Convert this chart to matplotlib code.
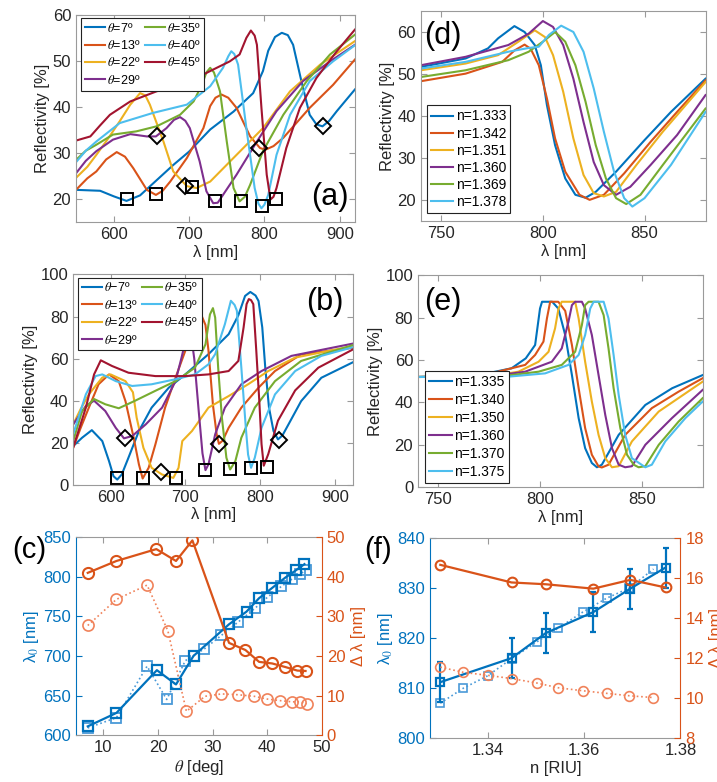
import matplotlib.pyplot as plt

plt.rcParams['font.family'] = ['Liberation Sans', 'DejaVu Sans']
plt.rcParams['mathtext.fontset'] = 'stix'

# MATLAB default colour order
cols = ['#0072BD', '#D95319', '#EDB120', '#7E2F8E', '#77AC30', '#4DBEEE', '#A2142F']
blue = '#0072BD'
orange = '#D95319'
lblue = '#4A9AD8'
lorange = '#F0825A'

# ---- (a) reflectivity spectra, (wavelength nm, R %) ----
a_t7 = [(550,22.0),(582,21.8),(600,20.6),(617,19.6),(635,20.8),(657,24.1),(679,27.4),(700,30.3),(728,35.1),(759,39.0),(785,43.0),(798,47.8),(805,52.2),(814,55.2),(823,56.1),(831,55.6),(838,53.5),(849,45.6),(860,38.3),(869,36.2),(877,35.8),(886,37.0),(896,39.1),(920,43.8)]
a_t13 = [(550,22.0),(565,24.5),(577,26.0),(590,28.6),(604,30.2),(615,29.2),(626,26.7),(644,22.0),(656,20.9),(665,21.8),(675,23.8),(697,28.9),(719,35.4),(728,40.2),(735,42.0),(743,42.7),(752,42.0),(763,39.8),(781,33.6),(794,31.1),(801,30.7),(812,31.5),(825,33.3),(860,39.8),(891,44.8),(920,50.3)]
a_t22 = [(550,24.6),(565,27.0),(577,29.6),(592,33.0),(608,36.9),(622,40.5),(635,43.0),(642,42.5),(648,40.5),(657,36.5),(666,32.5),(679,26.0),(697,22.8),(710,22.4),(728,23.8),(763,29.6),(798,35.4),(834,43.4),(874,49.2),(920,54.3)]
a_t29 = [(550,25.6),(563,28.3),(577,30.4),(599,32.9),(622,34.1),(644,33.6),(656,33.6),(670,35.4),(680,37.2),(688,37.8),(695,37.0),(701,35.4),(714,28.2),(723,21.7),(732,19.1),(738,19.2),(745,20.9),(763,25.3),(790,32.5),(816,39.1),(851,45.6),(887,49.9),(920,53.5)]
a_t35 = [(550,28.5),(563,30.5),(577,31.8),(599,34.0),(630,34.7),(657,35.8),(688,38.3),(706,41.2),(717,44.8),(723,47.5),(728,48.5),(733,47.5),(741,43.4),(750,32.5),(759,22.4),(767,19.5),(774,20.5),(781,23.1),(798,30.4),(825,38.3),(856,45.6),(887,51.4),(920,55.7)]
a_t40 = [(550,28.0),(563,30.5),(577,32.5),(608,36.5),(652,38.7),(697,40.5),(728,44.5),(745,48.5),(752,51.0),(756,52.1),(760,51.5),(765,49.2),(770,43.0),(776,35.4),(787,22.4),(792,19.0),(796,18.0),(800,18.8),(805,20.9),(816,29.6),(834,38.3),(860,45.6),(891,49.9),(920,53.4)]
a_t45 = [(550,32.7),(569,33.6),(582,36.0),(595,38.3),(622,41.2),(657,43.4),(697,45.2),(728,47.8),(754,49.9),(767,51.4),(776,55.0),(782,56.6),(787,55.5),(790,53.5),(796,39.8),(803,25.3),(808,19.9),(812,20.5),(816,22.4),(829,31.1),(847,39.8),(869,46.3),(896,52.1),(920,56.8)]
a_sq_x = [617, 656, 704, 735, 769, 797, 815]
a_sq_y = [20.0, 21.2, 22.7, 19.5, 19.5, 18.5, 20.0]
a_dm_x = [657, 694, 793, 877]
a_dm_y = [33.7, 22.9, 31.0, 35.9]
a_labels = [r'$\theta$=7º', r'$\theta$=13º', r'$\theta$=22º', r'$\theta$=29º',
            r'$\theta$=35º', r'$\theta$=40º', r'$\theta$=45º']

# ---- (b) ----
b_t7 = [(550,18.4),(562,22.4),(575,26.0),(589,20.8),(598,11.3),(604,4.1),(609,2.5),(615,4.9),(624,12.9),(638,25.6),(655,36.7),(678,46.2),(700,52.5),(731,62.1),(758,71.6),(771,80.6),(780,89.8),(787,91.7),(794,90.0),(798,87.4),(803,74.8),(807,55.7),(812,36.7),(818,25.6),(824,21.6),(830,23.5),(838,28.7),(855,39.8),(882,50.9),(925,58.4)]
b_t13 = [(550,17.6),(560,27.0),(571,36.7),(584,47.8),(598,52.5),(611,49.3),(620,39.8),(631,22.4),(638,9.7),(643,3.0),(651,8.1),(660,19.2),(673,36.7),(687,51.0),(700,63.7),(712,78.0),(720,82.0),(727,76.0),(731,64.0),(737,38.0),(742,24.0),(745,19.5),(750,21.0),(758,27.1),(775,36.7),(798,46.2),(820,54.1),(855,62.0),(925,65.2)]
b_t22 = [(550,28.7),(560,36.0),(571,43.0),(589,51.0),(600,52.5),(620,49.3),(630,44.0),(635,31.9),(644,17.6),(655,8.1),(669,4.9),(684,3.3),(691,8.1),(696,20.8),(709,25.6),(731,36.7),(758,42.2),(784,47.8),(811,54.1),(847,60.5),(925,66.0)]
b_t29 = [(550,28.7),(567,37.5),(578,40.0),(593,35.1),(607,27.1),(618,22.1),(629,23.2),(647,28.7),(669,36.7),(687,49.3),(695,60.5),(700,68.0),(705,74.0),(709,68.0),(712,60.0),(718,35.0),(723,15.0),(727,7.0),(731,9.7),(740,24.0),(753,36.7),(775,47.8),(802,54.1),(842,61.3),(925,67.2)]
b_t35 = [(550,20.8),(562,35.1),(578,40.8),(593,38.3),(611,36.4),(633,40.0),(660,44.7),(687,49.3),(713,55.7),(727,66.8),(733,81.0),(737,84.0),(740,79.5),(744,55.7),(749,31.9),(755,12.9),(760,7.3),(767,11.3),(775,22.4),(793,36.7),(820,49.3),(855,58.9),(925,66.5)]
b_t40 = [(550,24.0),(567,43.0),(580,51.7),(589,52.5),(607,49.3),(629,47.0),(655,47.8),(687,50.2),(713,52.5),(731,57.3),(740,62.1),(753,76.4),(761,87.5),(766,85.5),(769,82.8),(775,55.7),(781,27.1),(784,14.4),(788,8.1),(793,12.9),(802,27.1),(820,43.0),(847,54.1),(882,61.3),(925,65.5)]
b_t45 = [(550,17.6),(567,36.7),(578,52.5),(587,59.2),(602,56.5),(624,53.3),(660,51.7),(700,51.7),(731,52.5),(758,54.1),(771,58.9),(778,74.8),(782,85.9),(785,88.3),(788,87.8),(791,85.9),(795,63.7),(799,40.0),(802,19.4),(805,9.1),(811,14.6),(824,30.5),(847,44.9),(878,55.7),(925,64.5)]
b_sq_x = [609, 643, 687, 727, 760, 788, 809]
b_sq_y = [3.2, 3.2, 3.2, 7.1, 7.5, 8.1, 8.7]
b_dm_x = [620, 668, 745, 826]
b_dm_y = [22.2, 5.9, 19.5, 21.4]
b_labels = [r'$\theta$−7º', r'$\theta$=13º', r'$\theta$=22º', r'$\theta$=29º',
            r'$\theta$−35º', r'$\theta$=40º', r'$\theta$=45º']

# ---- (d) measured spectra ----
d_1333 = [(740,51.7),(762,53.7),(773,56.1),(778,58.5),(786,61.4),(791,60.0),(796,56.9),(799,52.1),(802,42.6),(806,33.1),(811,25.2),(816,21.3),(821,20.6),(826,22.0),(836,26.8),(850,34.3),(863,41.0),(880,48.9)]
d_1342 = [(740,48.3),(762,50.1),(780,52.9),(786,55.6),(791,57.0),(794,56.0),(798,52.1),(802,44.2),(806,34.7),(811,26.8),(818,21.3),(823,20.1),(830,21.3),(840,26.4),(853,33.9),(866,41.0),(880,48.5)]
d_1351 = [(740,50.9),(762,52.5),(778,54.5),(788,57.7),(796,60.4),(801,58.8),(805,54.5),(810,45.8),(815,34.7),(820,26.0),(825,21.7),(830,20.9),(836,22.0),(846,28.4),(859,36.3),(880,48.1)]
d_1360 = [(740,52.1),(762,54.1),(783,56.9),(793,59.6),(800,62.6),(805,61.2),(810,56.9),(815,48.9),(820,38.6),(825,29.1),(830,23.6),(836,21.3),(843,23.2),(853,28.4),(866,35.5),(880,45.0)]
d_1369 = [(740,49.3),(762,50.9),(783,53.3),(793,55.3),(800,57.7),(806,60.0),(811,57.7),(816,52.1),(821,43.4),(826,33.1),(831,25.2),(836,20.5),(841,19.1),(848,21.3),(859,28.4),(880,41.8)]
d_1378 = [(740,51.3),(762,52.9),(783,55.3),(793,56.2),(798,56.5),(803,59.3),(809,61.5),(815,60.0),(820,55.3),(825,46.6),(830,36.3),(835,26.8),(840,20.5),(844,18.5),(850,20.5),(863,28.4),(880,41.0)]
d_labels = ['n=1.333', 'n=1.342', 'n=1.351', 'n=1.360', 'n=1.369', 'n=1.378']

# ---- (e) simulated spectra ----
e_1335 = [(740,52.0),(770,52.9),(786,56.1),(793,60.8),(797.6,67.1),(800,84.3),(801,87.5),(806,87.5),(809,84.3),(812.4,71.8),(815.7,52.9),(819,32.6),(822.2,18.4),(825.5,11.4),(828,9.4),(830.4,10.6),(838.7,24.7),(851.8,38.8),(865,46.7),(880,52.9)]
e_1340 = [(740,52.0),(770,52.3),(792.7,57.7),(797.6,62.4),(801.7,68.7),(803.4,79.6),(805,87.5),(809,87.5),(812.4,83.2),(815.7,67.1),(819,46.7),(822.2,27.9),(825.5,15.3),(828.8,9.8),(830.4,9.3),(833.7,10.6),(841.9,24.7),(855,37.3),(868.2,45.1),(880,51.4)]
e_1350 = [(740,52.0),(775,52.3),(789.4,54.5),(799.3,59.2),(804.2,63.9),(807.4,74.9),(809.1,84.3),(810.7,87.5),(817.3,87.5),(819,79.6),(822.2,59.2),(825.5,40.4),(828.8,24.7),(832.1,13.7),(835.4,9.4),(838.7,9.9),(845.2,21.6),(858.4,35.7),(880,49.8)]
e_1360 = [(740,52.0),(775,52.2),(792.7,54.5),(805.8,59.2),(810.7,65.5),(814,78.1),(815.7,85.9),(817.3,87.5),(820.6,87.5),(822.2,84.3),(825.5,71.8),(828.8,52.9),(832.1,34.1),(835.4,18.4),(838.7,10.6),(841.9,9.4),(845.2,9.9),(851.8,20.0),(864.9,32.6),(880,45.9)]
e_1370 = [(740,52.0),(780,52.2),(799.3,54.5),(810.7,57.7),(817.3,63.9),(820.6,76.5),(822.2,85.9),(823.9,87.5),(828.8,87.5),(831.3,81.2),(833.7,65.5),(836.2,46.7),(839.5,27.9),(842.8,15.3),(846.1,10.6),(848.5,9.4),(851.8,9.9),(858.4,20.0),(868.2,31.0),(880,42.0)]
e_1375 = [(740,52.0),(785,52.2),(802.5,53.7),(814,57.7),(819,62.4),(822.2,71.8),(824.7,84.3),(826.4,87.5),(831.3,87.5),(833.7,79.6),(836.2,62.4),(838.7,43.5),(841.9,24.7),(845.2,13.7),(851.8,9.4),(855,10.6),(861.6,21.6),(871.5,32.6),(880,40.4)]
e_labels = ['n=1.335', 'n=1.340', 'n=1.350', 'n=1.360', 'n=1.370', 'n=1.375']

# ---- (c) resonance wavelength and width vs angle ----
c_th = [7.15, 12.4, 19.8, 23.3, 26.5, 33.0, 36.2, 38.5, 40.9, 43.3, 45.2, 46.8]
c_lam = [611, 628, 682, 664, 700, 740, 756, 773, 786, 799, 808, 816]
c_th_w = [7.15, 12.4, 19.7, 23.3, 26.3, 33.0, 36.0, 38.5, 40.9, 43.3, 45.5, 47.0]
c_width = [41.0, 44.0, 47.0, 44.0, 49.2, 23.3, 21.5, 18.5, 18.1, 17.2, 16.3, 16.2]
c_th2 = [7.15, 12.4, 18.0, 21.6, 25.0, 28.5, 31.6, 34.7, 37.7, 40.0, 42.6, 44.5, 45.9, 47.0]
c_lam2 = [609, 622, 687, 645, 694, 709, 726, 743, 760, 774, 788, 797, 803, 808]
c_th2_w = [7.15, 12.4, 18.0, 21.8, 25.2, 28.6, 31.6, 34.6, 37.6, 40.0, 42.4, 44.5, 45.9, 47.2]
c_width2 = [27.7, 34.3, 37.9, 26.4, 6.0, 9.8, 10.4, 10.2, 9.8, 9.1, 8.7, 8.4, 8.4, 7.9]

# ---- (f) resonance wavelength and width vs refractive index ----
f_n = [1.3301, 1.3449, 1.3520, 1.3619, 1.3696, 1.3769]
f_lam = [811.2, 816.0, 821.0, 825.2, 829.9, 834.1]
f_err = [4, 4, 4, 4, 4, 4]
f_width = [16.66, 15.78, 15.69, 15.47, 15.91, 15.53]
f_n2 = [1.3301, 1.3349, 1.3400, 1.3449, 1.3501, 1.3546, 1.3597, 1.3647, 1.3694, 1.3744]
f_lam2 = [807.0, 810.0, 812.5, 815.9, 819.2, 822.0, 825.2, 828.0, 830.0, 833.8]
f_width2 = [11.55, 11.29, 11.14, 10.98, 10.76, 10.52, 10.37, 10.24, 10.12, 10.03]

FS = 12
frame = '#9a9a9a'
txt = '#262626'


def style(ax):
    for s in ax.spines.values():
        s.set_color(frame)
        s.set_linewidth(0.8)
    ax.tick_params(direction='in', length=4, width=0.8, color=frame,
                   labelcolor=txt, labelsize=FS, top=True, right=True)


def spectra(ax, curves, labels, ncol, loc, anchor, fs, hl, ls):
    for pts, c, lab in zip(curves, cols, labels):
        xs, ys = zip(*pts)
        ax.plot(xs, ys, color=c, lw=1.5, label=lab)
    leg = ax.legend(loc=loc, bbox_to_anchor=anchor, ncol=ncol, fontsize=fs,
                    fancybox=False, framealpha=1, edgecolor='#222222',
                    borderaxespad=0, borderpad=0.3, handlelength=hl,
                    handletextpad=0.2, columnspacing=0.3, labelspacing=ls)
    leg.get_frame().set_linewidth(0.8)
    leg.set_zorder(5)
    style(ax)
    ax.set_xlabel('λ [nm]', fontsize=FS, color=txt, labelpad=2)
    ax.set_ylabel('Reflectivity [%]', fontsize=FS, color=txt, labelpad=2)


fig = plt.figure(figsize=(7.17, 7.82), dpi=100)

# (a)
ax = fig.add_axes([0.106, 0.716, 0.389, 0.265])
spectra(ax, [a_t7, a_t13, a_t22, a_t29, a_t35, a_t40, a_t45], a_labels,
        2, 'upper left', (0.018, 0.985), 9, 1.6, 0.35)
ax.plot(a_sq_x, a_sq_y, 's', mfc='none', mec='k', ms=9, mew=1.4)
ax.plot(a_dm_x, a_dm_y, 'D', mfc='none', mec='k', ms=8, mew=1.4)
ax.set_xlim(550, 920)
ax.set_ylim(15, 60)
ax.set_xticks([600, 700, 800, 900])
ax.set_yticks([20, 30, 40, 50, 60])
ax.text(0.91, 0.12, '(a)', transform=ax.transAxes, fontsize=22,
        ha='center', va='center')

# (b)
ax = fig.add_axes([0.102, 0.380, 0.391, 0.269])
spectra(ax, [b_t7, b_t13, b_t22, b_t29, b_t35, b_t40, b_t45], b_labels,
        2, 'upper left', (0.018, 0.985), 9, 1.6, 0.35)
ax.plot(b_sq_x, b_sq_y, 's', mfc='none', mec='k', ms=9, mew=1.4)
ax.plot(b_dm_x, b_dm_y, 'D', mfc='none', mec='k', ms=8, mew=1.4)
ax.set_xlim(550, 925)
ax.set_ylim(0, 100)
ax.set_xticks([600, 700, 800, 900])
ax.set_yticks([0, 20, 40, 60, 80, 100])
ax.text(0.896, 0.867, '(b)', transform=ax.transAxes, fontsize=22,
        ha='center', va='center')

# (d)
ax = fig.add_axes([0.587, 0.717, 0.397, 0.269])
spectra(ax, [d_1333, d_1342, d_1351, d_1360, d_1369, d_1378], d_labels,
        1, 'lower left', (0.02, 0.04), 10, 1.6, 0.22)
ax.set_xlim(740, 880)
ax.set_ylim(15, 65)
ax.set_xticks([750, 800, 850])
ax.set_yticks([20, 30, 40, 50, 60])
ax.text(0.077, 0.88, '(d)', transform=ax.transAxes, fontsize=22,
        ha='center', va='center')

# (e)
ax = fig.add_axes([0.583, 0.377, 0.397, 0.271])
spectra(ax, [e_1335, e_1340, e_1350, e_1360, e_1370, e_1375], e_labels,
        1, 'lower left', (0.025, 0.02), 10, 1.6, 0.28)
ax.set_xlim(740, 880)
ax.set_ylim(0, 100)
ax.set_xticks([750, 800, 850])
ax.set_yticks([0, 20, 40, 60, 80, 100])
ax.text(0.088, 0.873, '(e)', transform=ax.transAxes, fontsize=22,
        ha='center', va='center')


def twin_style(ax, ax2):
    style(ax)
    ax.tick_params(right=False)
    ax2.tick_params(direction='in', length=4, width=0.8, labelsize=FS,
                    left=False, right=True, color=orange, labelcolor=orange)
    ax.tick_params(axis='y', color=blue, labelcolor=blue)
    for s in ax2.spines.values():
        s.set_visible(False)
    ax2.spines['right'].set_visible(True)
    ax2.spines['right'].set_color(orange)
    ax2.spines['right'].set_linewidth(0.8)
    ax.spines['right'].set_visible(False)
    ax.spines['left'].set_color(blue)


# (c)
ax = fig.add_axes([0.106, 0.060, 0.343, 0.253])
ax2 = ax.twinx()
ax.plot(c_th2, c_lam2, ':s', color=lblue, mfc='none', ms=7, mew=1.3, lw=1.2)
ax.plot(c_th, c_lam, '-s', color=blue, mfc='none', ms=7, mew=1.6, lw=1.6)
ax2.plot(c_th2_w, c_width2, ':o', color=lorange, mfc='none', ms=8, mew=1.2, lw=1.2)
ax2.plot(c_th_w, c_width, '-o', color=orange, mfc='none', ms=8, mew=1.5, lw=1.6)
twin_style(ax, ax2)
ax.set_xlim(5, 50)
ax.set_ylim(600, 850)
ax2.set_ylim(0, 50)
ax.set_xticks([10, 20, 30, 40, 50])
ax.set_yticks([600, 650, 700, 750, 800, 850])
ax2.set_yticks([0, 10, 20, 30, 40, 50])
ax.set_xlabel(r'$\theta$ [deg]', fontsize=FS, color=txt, labelpad=2)
ax.set_ylabel('λ$_0$ [nm]', fontsize=FS, color=blue, labelpad=2)
ax2.set_ylabel('Δ λ [nm]', fontsize=FS, color=orange, labelpad=4)
ax.text(-0.19, 0.934, '(c)', transform=ax.transAxes, fontsize=21,
        ha='center', va='center')

# (f)
ax = fig.add_axes([0.600, 0.056, 0.349, 0.256])
ax2 = ax.twinx()
ax.plot(f_n2, f_lam2, ':s', color=lblue, mfc='none', ms=6, mew=1.2, lw=1.2)
ax.errorbar(f_n, f_lam, yerr=f_err, fmt='-s', color=blue, mfc='none', ms=6,
            mew=1.6, lw=1.6, elinewidth=1.6, capsize=2)
ax2.plot(f_n2, f_width2, ':o', color=lorange, mfc='none', ms=7, mew=1.2, lw=1.2)
ax2.plot(f_n, f_width, '-o', color=orange, mfc='none', ms=7, mew=1.5, lw=1.6)
twin_style(ax, ax2)
ax.set_xlim(1.328, 1.38)
ax.set_ylim(800, 840)
ax2.set_ylim(8, 18)
ax.set_xticks([1.34, 1.36, 1.38])
ax.set_yticks([800, 810, 820, 830, 840])
ax2.set_yticks([8, 10, 12, 14, 16, 18])
ax.set_xlabel('n [RIU]', fontsize=FS, color=txt, labelpad=2)
ax.set_ylabel('λ$_0$ [nm]', fontsize=FS, color=blue, labelpad=2)
ax2.set_ylabel('Δ λ [nm]', fontsize=FS, color=orange, labelpad=4)
ax.text(-0.208, 0.94, '(f)', transform=ax.transAxes, fontsize=21,
        ha='center', va='center')

fig.savefig('out.png', dpi=100)
